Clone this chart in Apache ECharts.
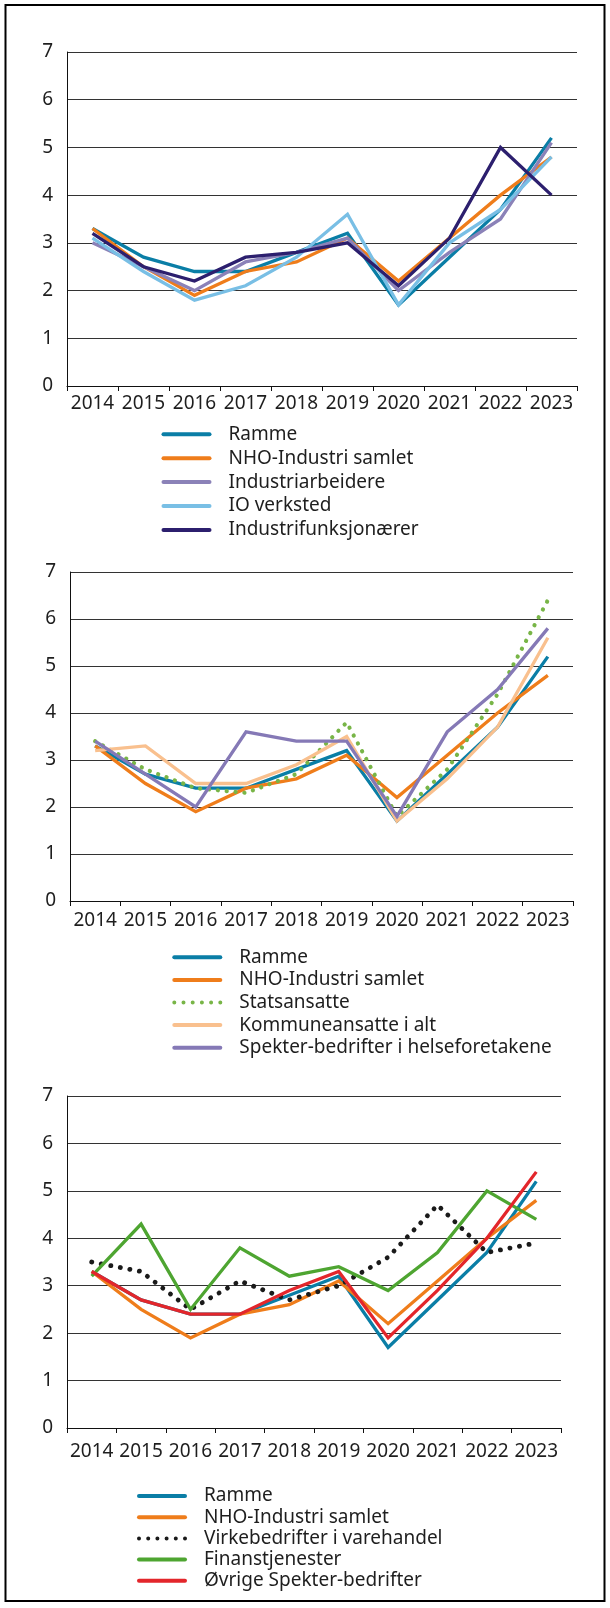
<!DOCTYPE html>
<html>
<head>
<meta charset="utf-8">
<script src="https://cdn.jsdelivr.net/npm/echarts@6/dist/echarts.min.js"></script>
<style>
html,body{margin:0;padding:0;background:#fff;}
#c{width:610px;height:1608px;}
</style>
</head>
<body>
<div id="c"></div>
<script>
// ---- data ----
const years = ['2014','2015','2016','2017','2018','2019','2020','2021','2022','2023'];
const yTicks = [0, 7, 1]; // min, max, interval

// Panel 1
const p1Names = ['Ramme','NHO-Industri samlet','Industriarbeidere','IO verksted','Industrifunksjonærer'];
const ramme = [3.3, 2.7, 2.4, 2.4, 2.8, 3.2, 1.7, 2.7, 3.7, 5.2];
const nhoIndustri = [3.3, 2.5, 1.9, 2.4, 2.6, 3.1, 2.2, 3.1, 4.0, 4.8];
const industriarbeidere = [3.0, 2.5, 2.0, 2.6, 2.8, 3.1, 2.0, 2.8, 3.5, 5.1];
const ioVerksted = [3.1, 2.4, 1.8, 2.1, 2.7, 3.6, 1.7, 3.0, 3.7, 4.8];
const industrifunksjonaerer = [3.2, 2.5, 2.2, 2.7, 2.8, 3.0, 2.1, 3.1, 5.0, 4.0];

// Panel 2
const p2Names = ['Ramme','NHO-Industri samlet','Statsansatte','Kommuneansatte i alt','Spekter-bedrifter i helseforetakene'];
const statsansatte = [3.4, 2.8, 2.4, 2.3, 2.7, 3.8, 1.8, 2.8, 4.4, 6.4];
const kommuneansatte = [3.2, 3.3, 2.5, 2.5, 2.9, 3.5, 1.7, 2.6, 3.7, 5.6];
const spekterHelse = [3.4, 2.7, 2.0, 3.6, 3.4, 3.4, 1.8, 3.6, 4.5, 5.8];

// Panel 3
const p3Names = ['Ramme','NHO-Industri samlet','Virkebedrifter i varehandel','Finanstjenester','Øvrige Spekter-bedrifter'];
const virke = [3.5, 3.3, 2.5, 3.1, 2.7, 3.0, 3.6, 4.7, 3.7, 3.9];
const finans = [3.2, 4.3, 2.5, 3.8, 3.2, 3.4, 2.9, 3.7, 5.0, 4.4];
const ovrigeSpekter = [3.3, 2.7, 2.4, 2.4, 2.9, 3.3, 1.9, 2.9, 4.0, 5.4];

// ---- styling ----
const FONT = 'Noto Sans';
const TXT = '#1e1e1e';
const C = {
  ramme: '#0a7ea6', nho: '#ef7d1b', arb: '#8b82b8', io: '#79bfe5', funk: '#2c1f6e',
  stat: '#78b547', kom: '#f9c08e', helse: '#8579b6',
  virke: '#1a1a1a', finans: '#4ea531', ovrige: '#e3262b'
};

const solidIcon = 'path://M2,0 L48,0 A2,2 0 0 1 48,4 L2,4 A2,2 0 0 1 2,0 Z';
let dotPath = 'path://';
for (let i = 0; i < 6; i++) {
  const cx = 2 + i * 9.2;
  dotPath += 'M' + (cx - 2) + ',2 A2,2 0 1 0 ' + (cx + 2) + ',2 A2,2 0 1 0 ' + (cx - 2) + ',2 Z ';
}
const dotIcon = dotPath.trim();

const grids = [
  {left: 67, right: 33, top: 52, height: 334},
  {left: 70, right: 37, top: 572, height: 329},
  {left: 67, right: 49, top: 1096, height: 332}
];
const xLabelMargins = [8, 10, 14];

function xAxis(i) {
  return {
    type: 'category', gridIndex: i, data: years, boundaryGap: true,
    axisLine: {show: true, lineStyle: {color: '#111', width: 1}},
    axisTick: {show: true, length: 5, inside: false, alignWithLabel: false, lineStyle: {color: '#111', width: 1}},
    axisLabel: {interval: 0, margin: xLabelMargins[i], fontSize: 19, fontFamily: FONT, color: TXT},
    splitLine: {show: false}
  };
}
function yAxis(i) {
  return {
    type: 'value', gridIndex: i, min: yTicks[0], max: yTicks[1], interval: yTicks[2],
    axisLine: {show: true, lineStyle: {color: '#111', width: 1}},
    axisTick: {show: false},
    axisLabel: {margin: 14, fontSize: 19, fontFamily: FONT, color: TXT},
    splitLine: {show: true, lineStyle: {color: '#333', width: 1}}
  };
}
function line(name, data, color, idx, dotted, dotW, gap) {
  const s = {
    name: name + '#' + idx, type: 'line', xAxisIndex: idx, yAxisIndex: idx, data: data,
    showSymbol: false, symbol: 'none', smooth: false, silent: true,
    lineStyle: {color: color, width: 3.3, join: 'miter'},
    itemStyle: {color: color}
  };
  if (dotted) {
    s.lineStyle = {color: color, width: dotW, type: [0.1, gap], cap: 'round'};
  }
  return s;
}

const series = [
  line('Ramme', ramme, C.ramme, 0),
  line('NHO-Industri samlet', nhoIndustri, C.nho, 0),
  line('Industriarbeidere', industriarbeidere, C.arb, 0),
  line('IO verksted', ioVerksted, C.io, 0),
  line('Industrifunksjonærer', industrifunksjonaerer, C.funk, 0),

  line('Ramme', ramme, C.ramme, 1),
  line('NHO-Industri samlet', nhoIndustri, C.nho, 1),
  line('Statsansatte', statsansatte, C.stat, 1, true, 4.2, 8.8),
  line('Kommuneansatte i alt', kommuneansatte, C.kom, 1),
  line('Spekter-bedrifter i helseforetakene', spekterHelse, C.helse, 1),

  line('Ramme', ramme, C.ramme, 2),
  line('NHO-Industri samlet', nhoIndustri, C.nho, 2),
  line('Virkebedrifter i varehandel', virke, C.virke, 2, true, 4.8, 9.6),
  line('Finanstjenester', finans, C.finans, 2),
  line('Øvrige Spekter-bedrifter', ovrigeSpekter, C.ovrige, 2)
];

function legend(names, idx, left, top, gap, dottedIdx) {
  return {
    orient: 'vertical', left: left, top: top, padding: 0, itemGap: gap,
    itemWidth: 50, itemHeight: 4, selectedMode: false,
    itemStyle: {borderWidth: 0},
    data: names.map((n, i) => ({name: n + '#' + idx, icon: i === dottedIdx ? dotIcon : solidIcon})),
    formatter: (n) => n.split('#')[0],
    textStyle: {fontSize: 19, lineHeight: 20, fontFamily: FONT, color: TXT, padding: [0, 0, 0, 12]}
  };
}

const option = {
  animation: false,
  backgroundColor: '#fff',
  grid: grids,
  xAxis: [xAxis(0), xAxis(1), xAxis(2)],
  yAxis: [yAxis(0), yAxis(1), yAxis(2)],
  legend: [
    legend(p1Names, 0, 161.5, 424.3, 3.9, -1),
    legend(p2Names, 1, 172.3, 947.3, 2.6, 2),
    legend(p3Names, 2, 137, 1486, 1.2, 2)
  ],
  graphic: [{
    type: 'rect', z: 100, silent: true,
    shape: {x: 5.5, y: 5, width: 599, height: 1596},
    style: {fill: 'none', stroke: '#000', lineWidth: 2}
  }],
  series: series
};

const chart = echarts.init(document.getElementById('c'), null, {renderer: 'canvas'});
chart.setOption(option);
</script>
</body>
</html>
